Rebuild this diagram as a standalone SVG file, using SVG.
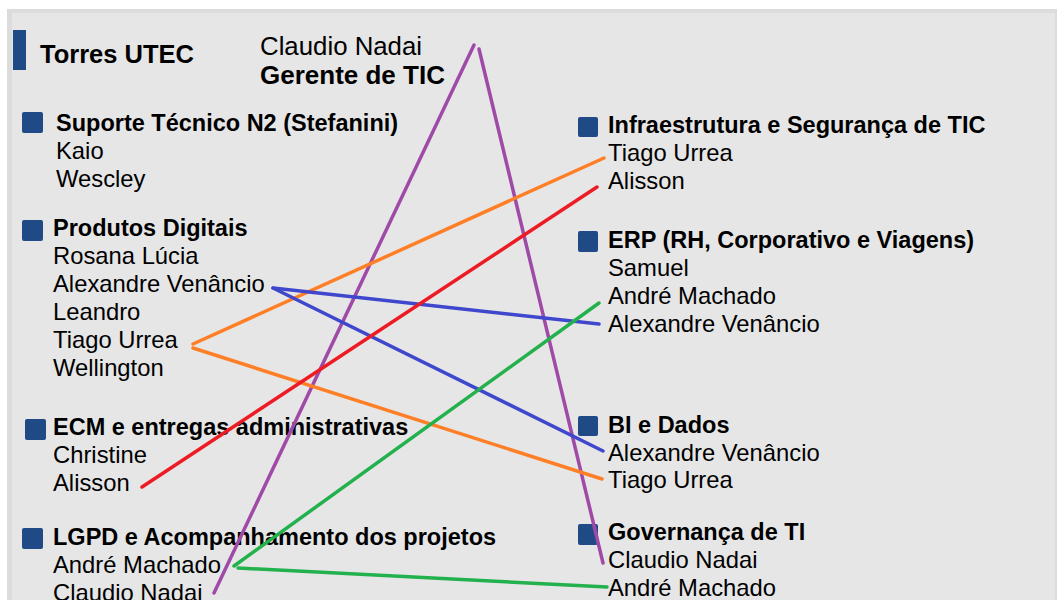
<svg xmlns="http://www.w3.org/2000/svg" width="1057" height="600" viewBox="0 0 1057 600">
<style>
text{font-family:"Liberation Sans",Arial,Helvetica,sans-serif;fill:#000}
.h{font-weight:bold;font-size:23.5px}
.n{font-size:23.8px}
.sq{fill:#1f4a85}
.c{fill:none;stroke-width:3.5;stroke-linecap:round}
.pu{stroke:#a04aa8}.or{stroke:#ff7f27}.bl{stroke:#3f48cc}.rd{stroke:#ed1c24}.gr{stroke:#22b14c}
</style>
<rect x="0" y="0" width="1057" height="600" fill="#ffffff"/>
<rect x="7" y="9" width="1050" height="591" fill="#dcdcdc"/>
<rect x="12" y="13" width="1043" height="587" fill="#e6e6e6"/>

<g id="title">
<rect x="13" y="30" width="13" height="40" class="sq"/>
<text x="40" y="63" font-weight="bold" font-size="25.5">Torres UTEC</text>
</g>
<g id="gerente">
<text x="260" y="55" font-size="25.8">Claudio Nadai</text>
<text x="260" y="84" font-weight="bold" font-size="26">Gerente de TIC</text>
</g>

<g id="suporte">
<rect x="22" y="112" width="21" height="21" rx="2" class="sq"/>
<text x="56" y="131" class="h">Suporte Técnico N2 (Stefanini)</text>
<text x="56" y="159" class="n">Kaio</text>
<text x="56" y="187" class="n">Wescley</text>
</g>

<g id="produtos">
<rect x="22" y="220" width="21" height="21" rx="2" class="sq"/>
<text x="53" y="236" class="h">Produtos Digitais</text>
<text x="53" y="264" class="n">Rosana Lúcia</text>
<text x="53" y="292" class="n">Alexandre Venâncio</text>
<text x="53" y="320" class="n">Leandro</text>
<text x="53" y="348" class="n">Tiago Urrea</text>
<text x="53" y="376" class="n">Wellington</text>
</g>

<g id="ecm">
<rect x="25" y="419" width="21" height="21" rx="2" class="sq"/>
<text x="53" y="435" class="h">ECM e entregas administrativas</text>
<text x="53" y="463" class="n">Christine</text>
<text x="53" y="491" class="n">Alisson</text>
</g>

<g id="lgpd">
<rect x="22" y="528" width="21" height="21" rx="2" class="sq"/>
<text x="53" y="545" class="h">LGPD e Acompanhamento dos projetos</text>
<text x="53" y="573" class="n">André Machado</text>
<text x="53" y="601" class="n">Claudio Nadai</text>
</g>

<g id="infra">
<rect x="578" y="117" width="20" height="20" rx="2" class="sq"/>
<text x="608" y="133" class="h">Infraestrutura e Segurança de TIC</text>
<text x="608" y="161" class="n">Tiago Urrea</text>
<text x="608" y="189" class="n">Alisson</text>
</g>

<g id="erp">
<rect x="578" y="231" width="20" height="21" rx="2" class="sq"/>
<text x="608" y="248" class="h">ERP (RH, Corporativo e Viagens)</text>
<text x="608" y="276" class="n">Samuel</text>
<text x="608" y="304" class="n">André Machado</text>
<text x="608" y="332" class="n">Alexandre Venâncio</text>
</g>

<g id="bi">
<rect x="578" y="416" width="20" height="20" rx="2" class="sq"/>
<text x="608" y="433" class="h">BI e Dados</text>
<text x="608" y="461" class="n">Alexandre Venâncio</text>
<text x="608" y="488" class="n">Tiago Urrea</text>
</g>

<g id="governanca">
<rect x="578" y="524" width="20" height="21" rx="2" class="sq"/>
<text x="608" y="540" class="h">Governança de TI</text>
<text x="608" y="568" class="n">Claudio Nadai</text>
<text x="608" y="596" class="n">André Machado</text>
</g>

<g id="connectors">
<line class="c pu" x1="474" y1="45" x2="214" y2="593"/>
<line class="c pu" x1="479" y1="49" x2="603" y2="563"/>
<line class="c or" x1="193" y1="344" x2="604" y2="158"/>
<line class="c or" x1="193" y1="348" x2="602" y2="479"/>
<line class="c bl" x1="273" y1="288" x2="599" y2="324"/>
<line class="c bl" x1="273" y1="288" x2="603" y2="451"/>
<line class="c rd" x1="142" y1="487" x2="597" y2="187"/>
<line class="c gr" x1="234" y1="566" x2="599" y2="303"/>
<line class="c gr" x1="238" y1="568" x2="607" y2="587"/>
</g>
</svg>
